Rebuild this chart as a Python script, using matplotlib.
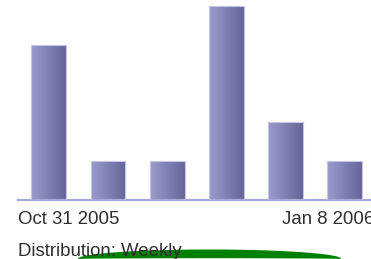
import numpy as np
import matplotlib
matplotlib.use('Agg')
import matplotlib.pyplot as plt
from matplotlib.colors import LinearSegmentedColormap

# weekly counts, one bar per week
weeks = ['Oct 31 2005', 'Nov 7', 'Nov 14', 'Nov 21', 'Nov 28', 'Jan 8 2006']
counts = [4, 1, 1, 5, 2, 1]
start_label = 'Oct 31 2005'
end_label = 'Jan 8 2006'
caption = 'Distribution: Weekly'

W, H = 371, 259
fig = plt.figure(figsize=(W / 100, H / 100), dpi=100)

# bar axes placed in pixel terms
left, right, top, base = 18, 371, 0, 200
ax = fig.add_axes([left / W, (H - base) / H, (right - left) / W, (base - top) / H])
x = np.arange(len(counts))
bars = ax.bar(x, counts, width=0.59, facecolor='none', edgecolor='#c4c4e4', linewidth=0.8, zorder=3)

grad = LinearSegmentedColormap.from_list('bar', ['#9a9acb', '#66669a'])
g = np.linspace(0, 1, 64).reshape(1, -1)
for b in bars:
    im = ax.imshow(g, cmap=grad, aspect='auto', zorder=2,
                   extent=[b.get_x(), b.get_x() + b.get_width(), 0, b.get_height()])
    im.set_clip_path(b)

ax.set_xlim(-0.52, 5.443)
ax.set_ylim(0, 5.155)
for s in ['top', 'right', 'left']:
    ax.spines[s].set_visible(False)
ax.spines['bottom'].set_color('#a8a8d8')
ax.spines['bottom'].set_linewidth(1.6)
ax.set_xticks([])
ax.set_yticks([])
ax.patch.set_alpha(0)

# overlay in pixel coordinates for labels and the green arc
ov = fig.add_axes([0, 0, 1, 1], zorder=5)
ov.set_xlim(0, W)
ov.set_ylim(H, 0)
ov.axis('off')
ov.patch.set_alpha(0)

font = dict(family=['Liberation Sans', 'DejaVu Sans'], fontsize=13.4, color='#2e2e2e')
ov.text(18, 224, start_label, ha='left', va='baseline', **font)
ov.text(282.5, 224, end_label, ha='left', va='baseline', **font)
ov.text(18, 256, caption, ha='left', va='baseline', **font)

xs = np.linspace(77, 341, 200)
cx, a = 209, 132
t = np.clip(1 - ((xs - cx) / a) ** 2, 0, None)
upper = 258.5 - 9.5 * np.sqrt(t)
lower = 258.5 - 0.8 * np.sqrt(t)
ov.fill_between(xs, upper, lower, color='#008000', linewidth=0)

fig.savefig('out.png', dpi=100)
